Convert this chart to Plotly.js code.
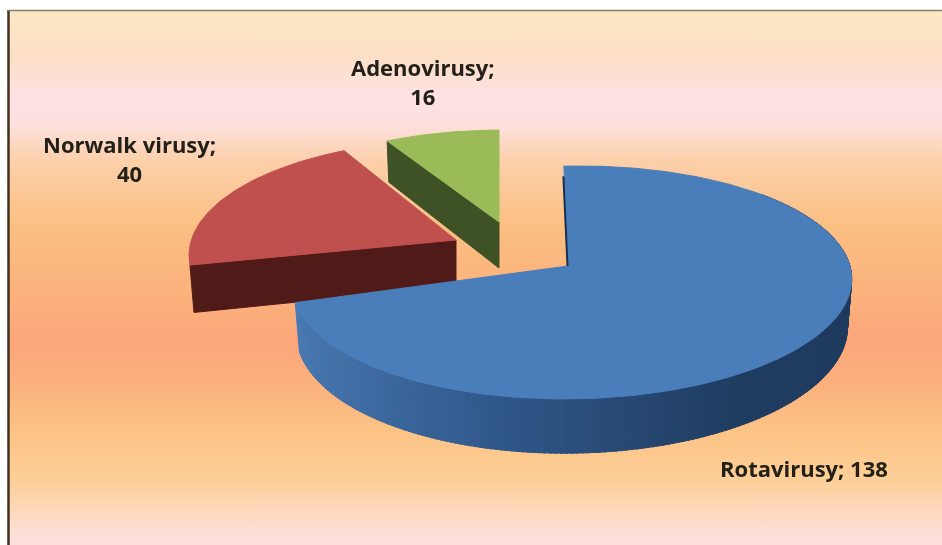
<!DOCTYPE html>
<html><head><meta charset="utf-8">
<script src="https://cdn.plot.ly/plotly-3.0.1.min.js"></script>
<style>
html,body{margin:0;padding:0;background:#fff;width:942px;height:545px;overflow:hidden}
#bg{position:absolute;left:9px;top:11px;width:933px;height:534px;
background:linear-gradient(180deg,#fbe8c4 0px,#fcdfc6 45px,#fde2e6 90px,#fde0dc 115px,#fcd0aa 150px,#fbbf82 215px,#fbb07c 290px,#fca67a 330px,#fbb17c 375px,#fcc385 420px,#fdcf98 470px,#fde0da 525px,#fde0dc 534px)}
#chart{position:absolute;left:0;top:0;width:942px;height:545px;filter:blur(0.55px)}
</style></head><body>
<div id="bg"></div><div id="chart"></div>
<script>
// Data
const categories = ["Rotavirusy", "Norwalk virusy", "Adenovirusy"];
const values = [138, 40, 16];
const topColors = ["#4a7ebb", "#c0504d", "#9bbb59"];
const sideColors = ["#1f3a5f", "#501a18", "#3f5226"];

// Projection of a tilted disc (pixels in the 942x545 frame)
const RX = 280, RY = 114.4, K = 0.133, SHRINK = 0.985;
const layoutOf = {
  "Rotavirusy":     {ax:568, ay:266, cx:572, cy:267, sx:0.99,  sy:1,    rot:-1.9, shear:0.012, depth:47},
  "Norwalk virusy": {ax:456, ay:240, cx:456, cy:240, sx:0.945, sy:0.99, rot:1.5,  shear:0,     depth:46},
  "Adenovirusy":    {ax:499, ay:222, cx:499, cy:222, sx:0.90,  sy:0.91, rot:0,    shear:0,     depth:46}
};
const total = values.reduce((a,b)=>a+b,0);
function pt(s, deg, down){
  const t = (deg+s.rot)*Math.PI/180, x = Math.sin(t), y = Math.cos(t);
  const p = 1/(1+K*y);
  const d = down ? s.depth*p : 0;
  const sh = down ? SHRINK : 1;
  const dx = RX*s.sx*x*p;
  return [s.cx + dx*sh, s.cy - RY*s.sy*y*p + d - s.shear*dx];
}
function poly(xy, color){
  const c = xy.concat([xy[0]]);
  return {type:"scatter", mode:"lines", x:c.map(p=>p[0]), y:c.map(p=>p[1]), fill:"toself",
    fillcolor:color, line:{color:color, width:1}, hoverinfo:"skip", showlegend:false};
}
function hex(c){return [1,3,5].map(i=>parseInt(c.slice(i,i+2),16));}
const sideStops = [[40,"#1d3557"],[100,"#1e3a5e"],[150,"#1f3c60"],[175,"#284a75"],[195,"#30578a"],[225,"#3f6ca2"],[256,"#4a7bb4"]];
function sideColor(a){
  for(let i=1;i<sideStops.length;i++){
    if(a<=sideStops[i][0]){
      const [a0,c0]=sideStops[i-1],[a1,c1]=sideStops[i],f=(a-a0)/(a1-a0);
      const A=hex(c0),B=hex(c1);
      return "rgb("+A.map((v,j)=>Math.round(v+(B[j]-v)*f)).join(",")+")";
    }
  }
  return sideStops[sideStops.length-1][1];
}
const spans = []; let acc = 0;
values.forEach(v=>{const a=acc, b=acc+v/total*360; spans.push([a,b]); acc=b;});

function arc(s,a,b,down){const o=[];const n=Math.max(2,Math.ceil(Math.abs(b-a)));for(let i=0;i<=n;i++)o.push(pt(s,a+(b-a)*i/n,down));return o;}
function topFace(i){const s=layoutOf[categories[i]];return poly([[s.ax,s.ay]].concat(arc(s,spans[i][0],spans[i][1],false)),topColors[i]);}
function cutFace(i){const s=layoutOf[categories[i]],a=spans[i][0];
  return poly([[s.ax,s.ay],pt(s,a,false),pt(s,a,true),[s.ax,s.ay+s.depth]],sideColors[i]);}

const traces = [];
// Adenovirusy, then Norwalk: cut face and top
traces.push(cutFace(2), topFace(2));
traces.push(cutFace(1), topFace(1));
// Rotavirusy: shaded rim, inner cut sliver, top
{const i=0,s=layoutOf[categories[i]],step=1;
 for(let a=spans[i][1];a>50;a-=step){
   const b=Math.max(a-step-0.4,50);
   traces.push(poly(arc(s,a,b,false).concat(arc(s,b,a,true)),sideColor(a)));
 }
 traces.push(topFace(i));
 const p0=pt(s,0,false);
 traces.push({type:"scatter",mode:"lines",x:[p0[0]-0.5,s.ax-0.5],y:[p0[1]+10,s.ay],
   line:{color:"#16304f",width:2},hoverinfo:"skip",showlegend:false});
}

const lab = (i,br)=>categories[i]+";"+(br?"<br>":" ")+values[i];
const labelFont = {family:"Open Sans, Noto Sans, sans-serif", size:22, color:"#222018", weight:700};
const annotations = [
 {x:804,y:468,text:lab(0,false)},
 {x:129,y:158,text:lab(1,true)},
 {x:423,y:81,text:lab(2,true)}
].map(a=>Object.assign(a,{xref:"x",yref:"y",showarrow:false,font:labelFont,align:"center"}));

const frame = [
 {type:"line",xref:"x",yref:"y",x0:8.5,x1:8.5,y0:10,y1:545,line:{color:"#40321f",width:2.5}},
 {type:"line",xref:"x",yref:"y",x0:8,x1:942,y0:10.5,y1:10.5,line:{color:"#8a806a",width:1.5}}
];
Plotly.newPlot("chart",traces,{
 width:942,height:545,margin:{l:0,r:0,t:0,b:0},
 paper_bgcolor:"rgba(0,0,0,0)",plot_bgcolor:"rgba(0,0,0,0)",showlegend:false,
 xaxis:{range:[0,942],visible:false,fixedrange:true},
 yaxis:{range:[545,0],visible:false,fixedrange:true},
 annotations,shapes:frame,hovermode:false
},{displayModeBar:false,staticPlot:true});
</script></body></html>
